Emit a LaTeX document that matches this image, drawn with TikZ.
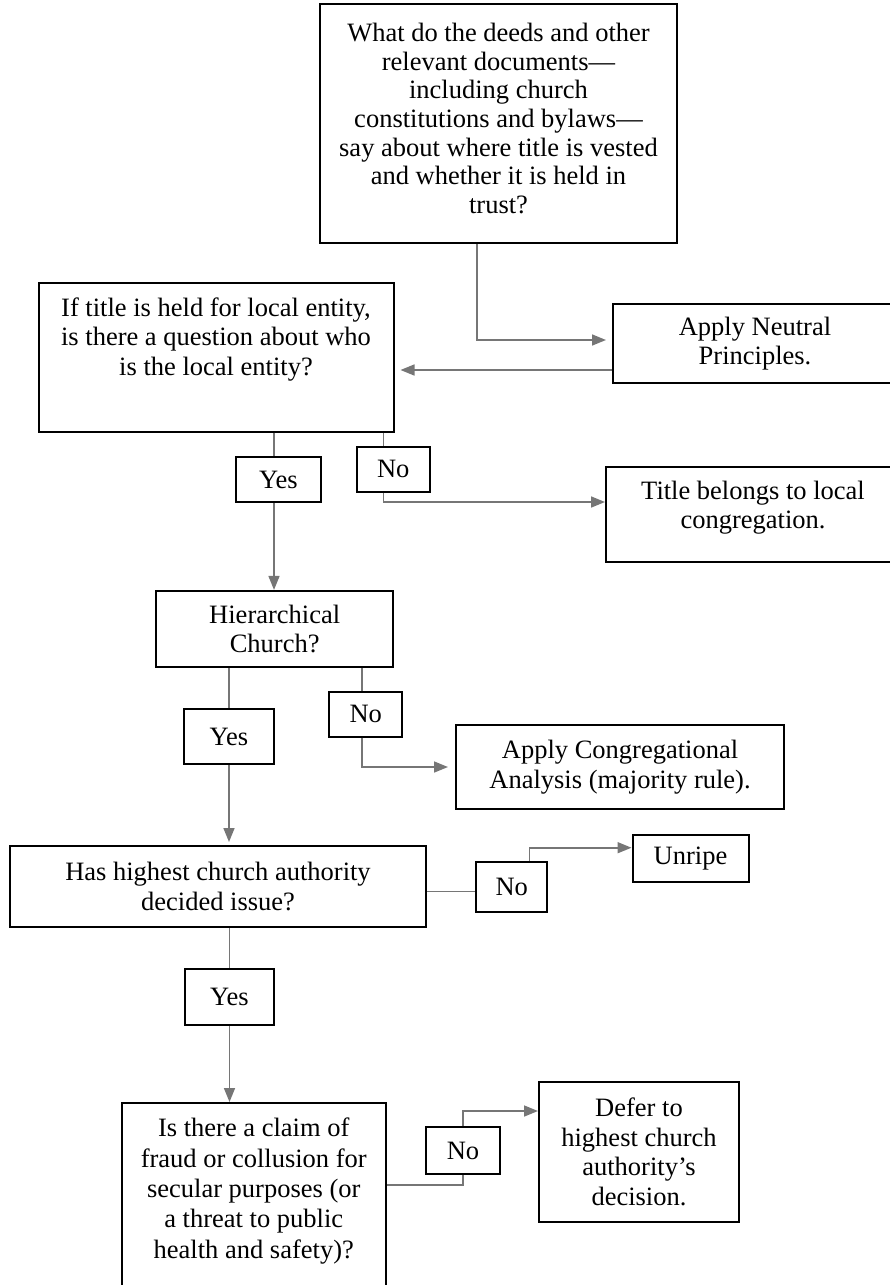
\documentclass[tikz,border=0pt]{standalone}
\usepackage{fontspec}
\setmainfont{Liberation Serif}
\usetikzlibrary{arrows.meta}
\definecolor{connc}{HTML}{767676}
\begin{document}
\begin{tikzpicture}[x=1pt,y=-1pt,
  box/.style={draw=black, line width=2pt, rectangle, inner sep=0pt, align=center,
              font=\fontsize{26.5}{29.5}\selectfont},
  lbl/.style={align=center, inner sep=0pt, font=\fontsize{26.5}{29.5}\selectfont},
  line/.style={draw=connc, line width=1.6pt},
  arr/.style={line, -{Triangle[length=14pt,width=11pt]}}
]
\useasboundingbox (0,0) rectangle (889,1285);

% boxes
\node[box, minimum width=357pt, minimum height=239pt, font=\fontsize{26.5}{28.7}\selectfont,
      label={[lbl, font=\fontsize{26.5}{28.7}\selectfont, yshift=5pt]center:{What do the deeds and other\\relevant documents—\\including church\\constitutions and bylaws—\\say about where title is vested\\and whether it is held in\\trust?}}]
      (q1) at (498.5,123.5) {};
\node[box, minimum width=284pt, minimum height=79pt] (q3) at (755,343.5) {Apply Neutral\\Principles.};
\node[box, minimum width=355pt, minimum height=149pt,
      label={[lbl, yshift=18pt]center:{If title is held for local entity,\\is there a question about who\\is the local entity?}}]
      (q2) at (216,357.2) {};
\node[box, minimum width=85pt, minimum height=45pt] (yes1) at (278.5,479.5) {Yes};
\node[box, minimum width=73pt, minimum height=45pt] (no1) at (393.3,469.2) {No};
\node[box, minimum width=294pt, minimum height=95pt,
      label={[lbl, yshift=7pt]center:{Title belongs to local\\congregation.}}]
      (q5) at (753,514.5) {};
\node[box, minimum width=237pt, minimum height=76pt] (q4) at (274.7,628.9) {Hierarchical\\Church?};
\node[box, minimum width=90pt, minimum height=55pt] (yes2) at (229,736.7) {Yes};
\node[box, minimum width=73pt, minimum height=45pt] (no2) at (365.8,714.2) {No};
\node[box, minimum width=328pt, minimum height=84pt] (q6) at (620,767) {Apply Congregational\\Analysis (majority rule).};
\node[box, minimum width=416pt, minimum height=81pt] (q7) at (218,886.5) {Has highest church authority\\decided issue?};
\node[box, minimum width=71pt, minimum height=50pt] (no3) at (511.7,886.7) {No};
\node[box, minimum width=116pt, minimum height=47pt] (unripe) at (690.5,858.3) {Unripe};
\node[box, minimum width=89pt, minimum height=56pt] (yes3) at (229.5,997) {Yes};
\node[box, minimum width=264.5pt, minimum height=202pt,
      label={[lbl, font=\fontsize{26.5}{30.4}\selectfont, yshift=13pt]center:{Is there a claim of\\fraud or collusion for\\secular purposes (or\\a threat to public\\health and safety)?}}]
      (q8) at (253.75,1204) {};
\node[box, minimum width=74pt, minimum height=47pt] (no4) at (463,1150.5) {No};
\node[box, minimum width=200pt, minimum height=140pt] (q9) at (639,1152) {Defer to\\highest church\\authority’s\\decision.};

% connectors
\draw[arr, shorten >=6pt] ([xshift=-21.5pt]q1.south) |- ([yshift=3.5pt]q3.west);
\draw[arr, shorten >=6pt] ([yshift=-26.5pt]q3.west) -- ([yshift=-26.5pt]q3.west -| q2.east);

\draw[line] ([xshift=-4.5pt]yes1.north |- q2.south) -- ([xshift=-4.5pt]yes1.north);
\draw[arr] ([xshift=-4.5pt]yes1.south) -- ([xshift=-4.5pt]yes1.south |- q4.north);
\draw[line] ([xshift=-9.8pt]no1.north |- q2.south) -- ([xshift=-9.8pt]no1.north);
\draw[arr] ([xshift=-9.8pt]no1.south) |- ([yshift=12.5pt]q5.west);

\draw[line] (yes2.north |- q4.south) -- (yes2.north);
\draw[arr, shorten >=3pt] (yes2.south) -- (yes2.south |- q7.north);
\draw[line] ([xshift=-4pt]no2.north |- q4.south) -- ([xshift=-4pt]no2.north);
\draw[arr, shorten >=7pt] ([xshift=-4pt]no2.south) |- (q6.west);

\draw[line] ([yshift=-5pt]q7.east) -- ([yshift=-5pt]q7.east -| no3.west);
\draw[arr] ([xshift=17.6pt]no3.north) |- ([yshift=10.6pt]unripe.west);

\draw[line] (yes3.north |- q7.south) -- (yes3.north);
\draw[arr] (yes3.south) -- (yes3.south |- q8.north);

\draw[line] ([yshift=19pt]q8.east) -| (no4.south);
\draw[arr] (no4.north) |- ([yshift=41pt]q9.west);
\end{tikzpicture}
\end{document}
